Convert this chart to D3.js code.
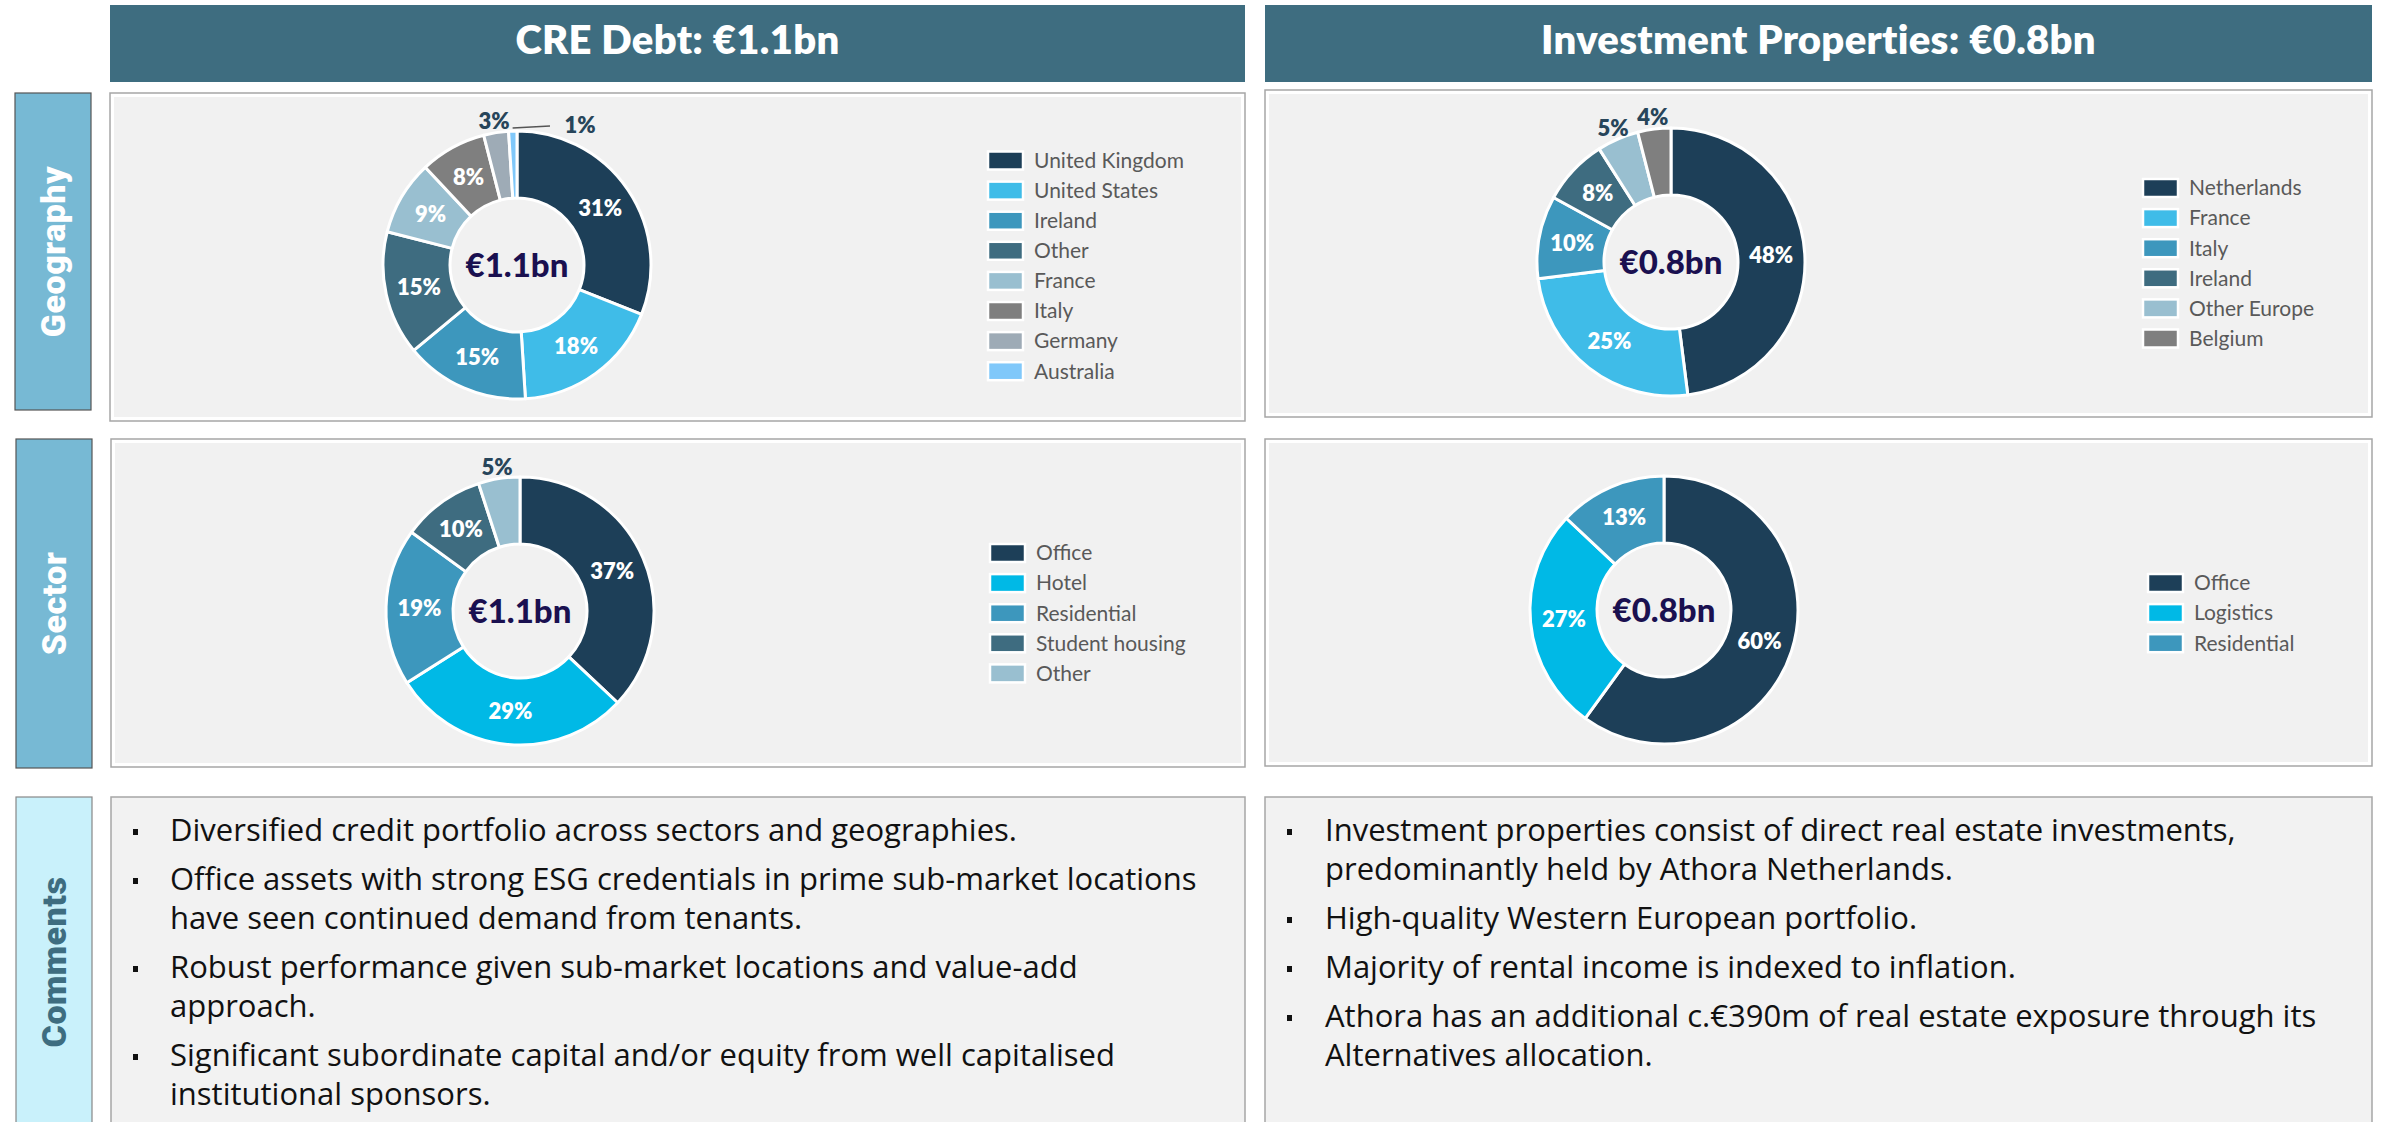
<!DOCTYPE html>
<html>
<head>
<meta charset="utf-8">
<script src="https://cdn.jsdelivr.net/npm/d3@7"></script>
<style>
  html, body { margin: 0; padding: 0; background: #ffffff; }
  svg { display: block; }
</style>
</head>
<body>
<svg id="chart" width="2384" height="1122"></svg>
<script>
// ---------- data ----------
const headerTitles = ["CRE Debt: €1.1bn", "Investment Properties: €0.8bn"];
const rowTitles = ["Geography", "Sector", "Comments"];
const centreTotals = ["€1.1bn", "€0.8bn"];

const creGeoLabels = ["United Kingdom", "United States", "Ireland", "Other", "France", "Italy", "Germany", "Australia"];
const creGeoValues = [31, 18, 15, 15, 9, 8, 3, 1];

const ipGeoLabels = ["Netherlands", "France", "Italy", "Ireland", "Other Europe", "Belgium"];
const ipGeoValues = [48, 25, 10, 8, 5, 4];

const creSectorLabels = ["Office", "Hotel", "Residential", "Student housing", "Other"];
const creSectorValues = [37, 29, 19, 10, 5];

const ipSectorLabels = ["Office", "Logistics", "Residential"];
const ipSectorValues = [60, 27, 13];

const creComments = [
  ["Diversified credit portfolio across sectors and geographies."],
  ["Office assets with strong ESG credentials in prime sub-market locations", "have seen continued demand from tenants."],
  ["Robust performance given sub-market locations and value-add", "approach."],
  ["Significant subordinate capital and/or equity from well capitalised", "institutional sponsors."]
];
const ipComments = [
  ["Investment properties consist of direct real estate investments,", "predominantly held by Athora Netherlands."],
  ["High-quality Western European portfolio."],
  ["Majority of rental income is indexed to inflation."],
  ["Athora has an additional c.€390m of real estate exposure through its", "Alternatives allocation."]
];

// ---------- palette ----------
const C = {
  navy: "#1d3f58", sky: "#3fbce8", cyan: "#00b9e6", blue: "#3d97bd",
  teal: "#3e6c80", pale: "#99bfd0", grey: "#7f7f7f", slate: "#9eabb6", light: "#80c8fa",
  header: "#3e6d80", side: "#77b9d4", sideLight: "#c9f1fb"
};
const creGeoColors = [C.navy, C.sky, C.blue, C.teal, C.pale, C.grey, C.slate, C.light];
const ipGeoColors = [C.navy, C.sky, C.blue, C.teal, C.pale, C.grey];
const creSectorColors = [C.navy, C.cyan, C.blue, C.teal, C.pale];
const ipSectorColors = [C.navy, C.cyan, C.blue];

const FONT = "Lato, 'Open Sans', sans-serif";
const BODY_FONT = "'Open Sans', 'Noto Sans', sans-serif";
const svg = d3.select("#chart");

// ---------- column headers ----------
const columns = [{x0: 110, x1: 1245}, {x0: 1265, x1: 2372}];
columns.forEach((col, i) => {
  svg.append("rect").attr("x", col.x0).attr("y", 5)
    .attr("width", col.x1 - col.x0).attr("height", 77).attr("fill", C.header);
  svg.append("text").attr("x", (col.x0 + col.x1) / 2).attr("y", 40)
    .attr("text-anchor", "middle").attr("dy", "0.35em")
    .attr("font-family", FONT).attr("font-weight", 800).attr("font-size", 40)
    .attr("letter-spacing", 0.3)
    .attr("fill", "#ffffff").text(headerTitles[i]);
});

// ---------- row side labels ----------
const sideBoxes = [
  {x: 15, y: 93, w: 76, h: 317, fill: C.side, text: "#ffffff", stroke: "#555"},
  {x: 16, y: 439, w: 76, h: 329, fill: C.side, text: "#ffffff", stroke: "#555"},
  {x: 16, y: 797, w: 76, h: 340, fill: C.sideLight, text: C.header, stroke: "#888"}
];
sideBoxes.forEach((b, i) => {
  svg.append("rect").attr("x", b.x).attr("y", b.y).attr("width", b.w).attr("height", b.h)
    .attr("fill", b.fill).attr("stroke", b.stroke).attr("stroke-width", 1.2);
  const cy = i === 2 ? 962 : b.y + b.h / 2;
  svg.append("text")
    .attr("transform", `translate(${b.x + b.w / 2},${cy}) rotate(-90)`)
    .attr("text-anchor", "middle").attr("dy", "0.36em")
    .attr("font-family", "Roboto, 'Open Sans', sans-serif").attr("font-weight", 900)
    .attr("font-size", 34).attr("letter-spacing", 0.5)
    .attr("fill", b.text).text(rowTitles[i]);
});

// ---------- chart panels ----------
function panel(x0, y0, x1, y1) {
  svg.append("rect").attr("x", x0).attr("y", y0).attr("width", x1 - x0).attr("height", y1 - y0)
    .attr("fill", "#ffffff").attr("stroke", "#a6a6a6").attr("stroke-width", 1.5);
  svg.append("rect").attr("x", x0 + 4).attr("y", y0 + 4).attr("width", x1 - x0 - 8).attr("height", y1 - y0 - 8)
    .attr("fill", "#f1f1f1");
}
panel(110, 93, 1245, 421);
panel(1265, 90, 2372, 417);
panel(111, 439, 1245, 767);
panel(1265, 439, 2372, 766);

// ---------- donut ----------
const R_OUT = 134, R_IN = 67;
function donut(opt) {
  const data = opt.labels.map((l, i) => ({label: l, value: opt.values[i], color: opt.colors[i]}));
  const pie = d3.pie().sort(null).value(d => d.value);
  const arc = d3.arc().innerRadius(R_IN).outerRadius(R_OUT);
  const arcs = pie(data);
  const g = svg.append("g").attr("transform", `translate(${opt.cx},${opt.cy})`);

  g.selectAll("path.slice").data(arcs).join("path")
    .attr("class", "slice").attr("d", arc)
    .attr("fill", d => d.data.color)
    .attr("stroke", "#ffffff").attr("stroke-width", 3).attr("stroke-linejoin", "round");

  arcs.forEach(a => {
    const mid = (a.startAngle + a.endAngle) / 2;
    const txt = a.data.value + "%";
    if (a.data.value >= 6) {
      const [x, y] = arc.centroid(a);
      g.append("text").attr("x", x).attr("y", y).attr("dy", "0.35em")
        .attr("text-anchor", "middle").attr("font-family", FONT).attr("font-weight", 800)
        .attr("font-size", 22).attr("fill", "#ffffff").text(txt);
    } else if (a.data.value >= 2) {
      const r = 146;
      g.append("text").attr("x", r * Math.sin(mid)).attr("y", -r * Math.cos(mid)).attr("dy", "0.35em")
        .attr("text-anchor", "middle").attr("font-family", FONT).attr("font-weight", 800)
        .attr("font-size", 22).attr("fill", "#27455a").text(txt);
    } else {
      // tiny slice: label pushed to the right with a leader line
      const lx = 63, ly = -140;
      const r0 = 139;
      g.append("line")
        .attr("x1", r0 * Math.sin(mid)).attr("y1", -r0 * Math.cos(mid) + 2)
        .attr("x2", lx - 30).attr("y2", ly + 1)
        .attr("stroke", "#555").attr("stroke-width", 1.6);
      g.append("text").attr("x", lx).attr("y", ly).attr("dy", "0.35em")
        .attr("text-anchor", "middle").attr("font-family", FONT).attr("font-weight", 800)
        .attr("font-size", 22).attr("fill", "#27455a").text(txt);
    }
  });

  g.append("text").attr("x", 0).attr("y", 0).attr("dy", "0.36em")
    .attr("text-anchor", "middle").attr("font-family", FONT).attr("font-weight", 900)
    .attr("font-size", 33).attr("fill", "#1a1050").text(opt.total);

  // legend
  const lg = svg.append("g").attr("transform", `translate(${opt.lx},${opt.ly})`);
  const rows = lg.selectAll("g").data(data).join("g")
    .attr("transform", (d, i) => `translate(0,${i * 30.1})`);
  rows.append("rect").attr("x", 0).attr("y", -9).attr("width", 35).attr("height", 18)
    .attr("fill", d => d.color).attr("stroke", "#ffffff").attr("stroke-width", 2.5);
  rows.append("text").attr("x", 46).attr("y", 0).attr("dy", "0.35em")
    .attr("font-family", FONT).attr("font-size", 21).attr("fill", "#595959")
    .text(d => d.label);
}

donut({cx: 517, cy: 265, labels: creGeoLabels, values: creGeoValues, colors: creGeoColors,
       total: centreTotals[0], lx: 988, ly: 160.5});
donut({cx: 1671, cy: 262, labels: ipGeoLabels, values: ipGeoValues, colors: ipGeoColors,
       total: centreTotals[1], lx: 2143, ly: 188});
donut({cx: 520, cy: 611, labels: creSectorLabels, values: creSectorValues, colors: creSectorColors,
       total: centreTotals[0], lx: 990, ly: 553});
donut({cx: 1664, cy: 610, labels: ipSectorLabels, values: ipSectorValues, colors: ipSectorColors,
       total: centreTotals[1], lx: 2148, ly: 583});

// ---------- comments ----------
function comments(x0, x1, bulletX, textX, items) {
  svg.append("rect").attr("x", x0).attr("y", 797).attr("width", x1 - x0).attr("height", 360)
    .attr("fill", "#f2f2f2").attr("stroke", "#a6a6a6").attr("stroke-width", 1.5);
  let y = 831;
  items.forEach(lines => {
    svg.append("rect").attr("x", bulletX).attr("y", y - 2).attr("width", 5).attr("height", 6).attr("fill", "#111");
    lines.forEach((line, j) => {
      svg.append("text").attr("x", textX).attr("y", y).attr("dy", "0.33em")
        .attr("font-family", BODY_FONT).attr("font-size", 31).attr("fill", "#111")
        .text(line);
      y += j < lines.length - 1 ? 39 : 49;
    });
  });
}
comments(111, 1245, 133, 170, creComments);
comments(1265, 2372, 1287, 1325, ipComments);
</script>
</body>
</html>
